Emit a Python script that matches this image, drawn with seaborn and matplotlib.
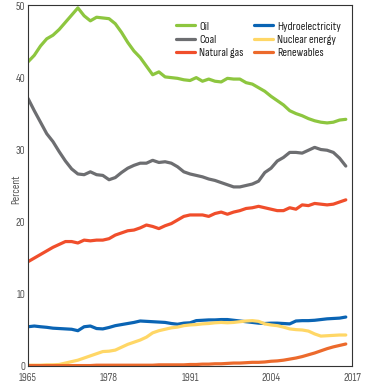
import seaborn as sns
import matplotlib.pyplot as plt
import pandas as pd
import numpy as np

# data (share of world primary energy, percent)
years = list(range(1965, 2017))

oil = [42.3, 43.2, 44.5, 45.5, 46.0, 46.8, 47.8, 48.8, 49.8, 48.7,
       48.0, 48.5, 48.4, 48.3, 47.6, 46.4, 45.0, 43.8, 42.9, 41.7,
       40.5, 40.9, 40.2, 40.1, 40.0, 39.8, 39.7, 40.1, 39.6, 39.9,
       39.6, 39.5, 40.0, 39.9, 39.9, 39.4, 39.2, 38.7, 38.2, 37.5,
       36.9, 36.3, 35.5, 35.1, 34.8, 34.4, 34.1, 33.9, 33.8, 33.9,
       34.2, 34.3]
coal = [37.2, 35.5, 33.9, 32.3, 31.2, 29.8, 28.5, 27.4, 26.7, 26.6,
        27.0, 26.6, 26.5, 25.9, 26.2, 26.9, 27.5, 27.9, 28.2, 28.2,
        28.6, 28.3, 28.4, 28.2, 27.7, 27.0, 26.7, 26.5, 26.3, 26.0,
        25.8, 25.5, 25.2, 24.9, 24.9, 25.1, 25.3, 25.7, 26.9, 27.5,
        28.5, 29.0, 29.7, 29.7, 29.6, 30.0, 30.4, 30.1, 30.0, 29.7,
        28.9, 27.8]
gas = [14.5, 15.0, 15.5, 16.0, 16.5, 16.9, 17.3, 17.3, 17.1, 17.5,
       17.4, 17.5, 17.5, 17.7, 18.2, 18.5, 18.8, 18.9, 19.2, 19.6,
       19.4, 19.1, 19.5, 19.8, 20.3, 20.8, 21.0, 21.0, 21.0, 20.8,
       21.2, 21.4, 21.1, 21.4, 21.6, 21.9, 22.0, 22.2, 22.0, 21.8,
       21.6, 21.6, 22.0, 21.8, 22.4, 22.3, 22.6, 22.5, 22.4, 22.5,
       22.8, 23.1]
hydro = [5.45, 5.55, 5.45, 5.37, 5.25, 5.2, 5.15, 5.1, 4.9, 5.45,
         5.55, 5.2, 5.15, 5.35, 5.6, 5.75, 5.9, 6.05, 6.25, 6.2,
         6.15, 6.1, 6.05, 5.9, 5.8, 5.95, 6.0, 6.3, 6.35, 6.4,
         6.4, 6.45, 6.45, 6.35, 6.25, 6.15, 6.05, 5.95, 5.9, 5.95,
         5.95, 5.9, 5.85, 6.25, 6.3, 6.3, 6.35, 6.45, 6.55, 6.6,
         6.65, 6.8]
nuclear = [0.1, 0.1, 0.1, 0.15, 0.15, 0.2, 0.4, 0.6, 0.8, 1.1,
           1.4, 1.7, 2.0, 2.05, 2.2, 2.6, 3.0, 3.3, 3.6, 4.0,
           4.6, 4.9, 5.1, 5.3, 5.4, 5.6, 5.7, 5.75, 5.85, 5.9,
           6.0, 6.05, 6.0, 6.05, 6.15, 6.25, 6.3, 6.2, 5.85, 5.7,
           5.6, 5.4, 5.15, 5.05, 5.0, 4.85, 4.45, 4.15, 4.2, 4.25,
           4.3, 4.3]
renew = [0.05, 0.05, 0.05, 0.05, 0.05, 0.05, 0.05, 0.05, 0.05, 0.05,
         0.05, 0.1, 0.1, 0.1, 0.1, 0.1, 0.1, 0.1, 0.1, 0.1,
         0.1, 0.15, 0.15, 0.15, 0.15, 0.15, 0.2, 0.2, 0.25, 0.25,
         0.3, 0.3, 0.35, 0.4, 0.4, 0.45, 0.5, 0.5, 0.55, 0.65,
         0.7, 0.8, 0.95, 1.1, 1.3, 1.55, 1.8, 2.1, 2.4, 2.65,
         2.85, 3.05]

sources = ['Oil', 'Coal', 'Natural gas', 'Hydroelectricity', 'Nuclear energy', 'Renewables']
colors = {'Oil': '#8dc63f', 'Coal': '#6d6e71', 'Natural gas': '#f04e2b',
          'Hydroelectricity': '#0a64b4', 'Nuclear energy': '#ffd766',
          'Renewables': '#ec6a2c'}

series = [oil, coal, gas, hydro, nuclear, renew]
df = pd.concat([pd.DataFrame({'Year': years, 'Percent': v, 'Source': s})
                for s, v in zip(sources, series)], ignore_index=True)

sns.set_style('white')
plt.rcParams['font.family'] = ['Sofia Sans Condensed', 'Archivo Narrow', 'DejaVu Sans']

fig = plt.figure(figsize=(3.69, 3.86), dpi=100)
ax = fig.add_axes([0.076, 0.052, 0.878, 0.935])

sns.lineplot(data=df, x='Year', y='Percent', hue='Source', hue_order=sources,
             palette=colors, linewidth=2.3, ax=ax)

ax.set_xlim(1965, 2017)
ax.set_ylim(0, 50.2)
ax.set_xticks([1965, 1978, 1991, 2004, 2017])
ax.set_yticks([0, 10, 20, 30, 40, 50])
ax.tick_params(direction='in', length=7, width=0.8, color='#333333',
               labelsize=8, labelcolor='#555555')
ax.tick_params(axis='x', pad=5)
ax.tick_params(axis='y', pad=2)
ax.set_xlabel('')
ax.set_ylabel('Percent', fontsize=8, color='#555555')
ax.yaxis.set_label_coords(-0.022, 0.49)
for sp in ax.spines.values():
    sp.set_color('#333333')
    sp.set_linewidth(0.8)

leg = ax.legend(ncol=2, frameon=False, loc='upper right',
                bbox_to_anchor=(0.965, 0.955), fontsize=8.5,
                handlelength=1.6, handletextpad=0.35, columnspacing=0.9,
                labelspacing=0.25, borderpad=0, borderaxespad=0)
for t in leg.get_texts():
    t.set_fontweight('medium')
    t.set_color('#222222')
for line in leg.get_lines():
    line.set_linewidth(2.3)

plt.savefig('out.png', dpi=100)
